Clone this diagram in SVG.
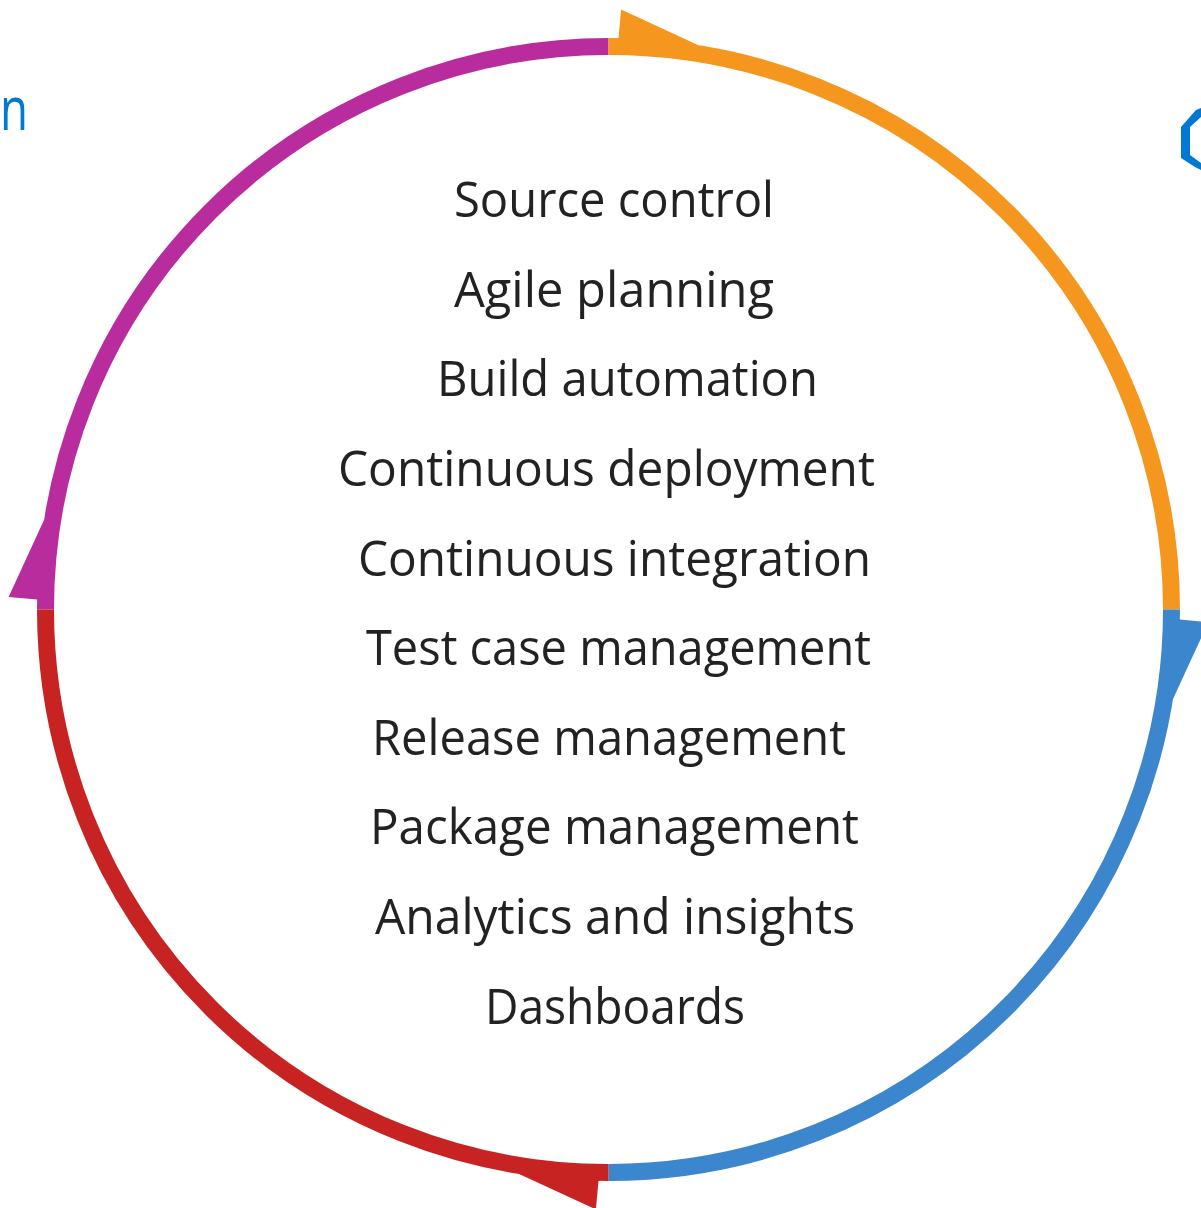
<svg xmlns="http://www.w3.org/2000/svg" width="1201" height="1208" viewBox="0 0 1201 1208">
<style>
.arc{fill:none;stroke-width:17;stroke-linecap:butt}
.item{font-family:"Open Sans","Noto Sans","Liberation Sans",sans-serif;font-size:50px;fill:#222222}
.brand{font-family:"Open Sans","Noto Sans","Liberation Sans",sans-serif;font-size:61px;fill:#0078D4}
</style>
<defs>
<polygon id="barb" points="608.5,46.5 618.5,38.1 621.1,9.6 697.9,45.0 696.6,53.4"/>
</defs>
<rect width="1201" height="1208" fill="#ffffff"/>
<g id="connectors">
<path class="arc" stroke="#B82C9E" d="M 45.5 609.5 A 563 563 0 0 1 608.5 46.5"/>
<path class="arc" stroke="#F5961E" d="M 608.5 46.5 A 563 563 0 0 1 1171.5 609.5"/>
<path class="arc" stroke="#3C86CE" d="M 1171.5 609.5 A 563 563 0 0 1 608.5 1172.5"/>
<path class="arc" stroke="#C82323" d="M 608.5 1172.5 A 563 563 0 0 1 45.5 609.5"/>
<use href="#barb" fill="#F5961E"/>
<use href="#barb" fill="#3C86CE" transform="rotate(90 608.5 609.5)"/>
<use href="#barb" fill="#C82323" transform="rotate(180 608.5 609.5)"/>
<use href="#barb" fill="#B82C9E" transform="rotate(270 608.5 609.5)"/>
</g>
<g id="brand-text">
<text class="brand" x="0" y="130" textLength="28" lengthAdjust="spacingAndGlyphs">n</text>
</g>
<g id="brand-icon">
<polygon fill="#0078D4" points="1181,127 1196,110 1201,108 1201,117 1190,127 1190,155 1201,163 1201,170 1195,167 1181,158"/>
</g>
<g id="items">
<text class="item" x="454" y="217" textLength="320" lengthAdjust="spacingAndGlyphs">Source control</text>
<text class="item" x="454" y="306.6" textLength="320" lengthAdjust="spacingAndGlyphs">Agile planning</text>
<text class="item" x="437" y="396" textLength="381" lengthAdjust="spacingAndGlyphs">Build automation</text>
<text class="item" x="338" y="486" textLength="537" lengthAdjust="spacingAndGlyphs">Continuous deployment</text>
<text class="item" x="358" y="575.5" textLength="513" lengthAdjust="spacingAndGlyphs">Continuous integration</text>
<text class="item" x="366" y="665" textLength="505" lengthAdjust="spacingAndGlyphs">Test case management</text>
<text class="item" x="372" y="754.6" textLength="474" lengthAdjust="spacingAndGlyphs">Release management</text>
<text class="item" x="370" y="844" textLength="489" lengthAdjust="spacingAndGlyphs">Package management</text>
<text class="item" x="375" y="934" textLength="480" lengthAdjust="spacingAndGlyphs">Analytics and insights</text>
<text class="item" x="485" y="1023.5" textLength="260" lengthAdjust="spacingAndGlyphs">Dashboards</text>
</g>
</svg>
